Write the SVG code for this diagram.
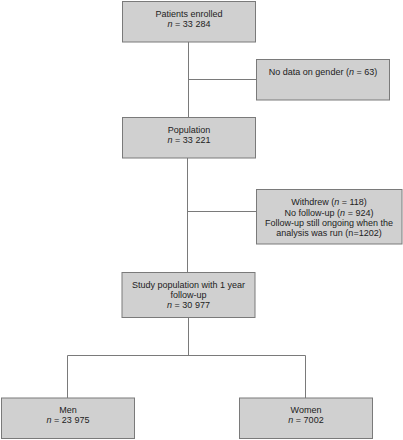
<svg xmlns="http://www.w3.org/2000/svg" width="403" height="440" viewBox="0 0 403 440">
<style>
.box{fill:#d0d0d0;stroke:#7a7a7a;stroke-width:1}
.ln{fill:none;stroke:#7a7a7a;stroke-width:1}
text{font-family:"Liberation Sans",Arial,sans-serif;font-size:9px;fill:#222;text-anchor:middle}
.i{font-style:italic}
</style>
<rect width="403" height="440" fill="#fff"/>
<g id="connectors">
<path class="ln" d="M188.5 42V117M188.5 79.5H256"/>
<path class="ln" d="M187.5 158V272M187.5 211.5H256"/>
<path class="ln" d="M188.5 317V355.5M67.5 398V355.5H305.5V398"/>
</g>
<g id="n1"><rect class="box" x="122.5" y="1.5" width="133" height="40.5"/>
<text x="189" y="16.5">Patients enrolled</text>
<text x="189" y="27"><tspan class="i">n</tspan> = 33 284</text></g>
<g id="n2"><rect class="box" x="256.5" y="59.5" width="133" height="40.5"/>
<text x="323" y="74.5">No data on gender (<tspan class="i">n</tspan> = 63)</text></g>
<g id="n3"><rect class="box" x="122.5" y="117.5" width="133" height="40.5"/>
<text x="189" y="132.5">Population</text>
<text x="189" y="143"><tspan class="i">n</tspan> = 33 221</text></g>
<g id="n4"><rect class="box" x="256.5" y="189.5" width="145.5" height="54.5"/>
<text x="329" y="205.3">Withdrew (<tspan class="i">n</tspan> = 118)</text>
<text x="329" y="215.6">No follow-up (<tspan class="i">n</tspan> = 924)</text>
<text x="329" y="226">Follow-up still ongoing when the</text>
<text x="329" y="236.3">analysis was run (n=1202)</text></g>
<g id="n5"><rect class="box" x="122" y="272.5" width="133" height="45"/>
<text x="188.5" y="288">Study population with 1 year</text>
<text x="188.5" y="298">follow-up</text>
<text x="188.5" y="308.3"><tspan class="i">n</tspan> = 30 977</text></g>
<g id="n6"><rect class="box" x="1.5" y="398" width="133" height="40.5"/>
<text x="68" y="412.6">Men</text>
<text x="68" y="423"><tspan class="i">n</tspan> = 23 975</text></g>
<g id="n7"><rect class="box" x="239.5" y="398" width="133" height="40.5"/>
<text x="306" y="412.6">Women</text>
<text x="306" y="423"><tspan class="i">n</tspan> = 7002</text></g>
</svg>
